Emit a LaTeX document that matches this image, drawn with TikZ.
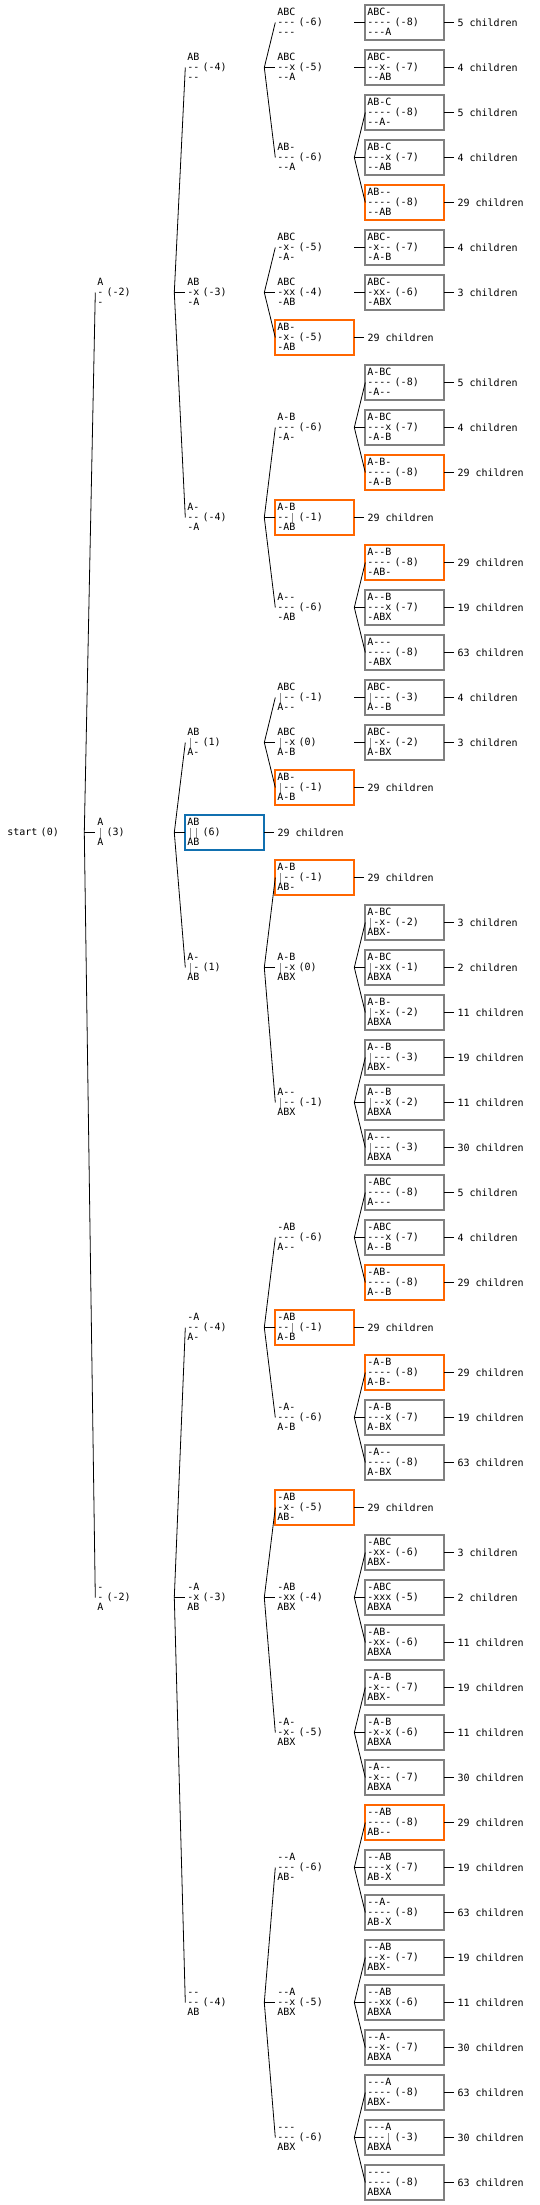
\documentclass[tikz,border=0pt]{standalone}
\usepackage{fontspec}
\setmonofont{DejaVu Sans Mono}
\usetikzlibrary{math,positioning}
\definecolor{boxgrey}{RGB}{128,128,128}
\definecolor{boxorange}{RGB}{255,102,0}
\definecolor{boxblue}{RGB}{17,112,176}
\definecolor{hitgrey}{RGB}{140,140,140}
\newcommand{\tstrut}{\vrule height 8.2pt depth 2.1pt width 0pt}
\newcommand{\hit}{\makebox[0.602em]{\smash{\color{hitgrey}\rule[-2.5pt]{1.4pt}{10.5pt}}}}
\newcommand{\trio}[3]{\tstrut#1\\\tstrut#2\\\tstrut#3}

\begin{document}
\begin{tikzpicture}[x=1pt, y=-1pt,
    tile/.style={anchor=west, outer sep=0pt, inner xsep=2pt, inner ysep=2pt,
      text width=75pt, minimum height=35pt, align=left, line width=1.8pt,
      font=\ttfamily\fontsize{10}{10.3}\selectfont},
    greytile/.style={draw=boxgrey},
    orangetile/.style={draw=boxorange},
    bluetile/.style={draw=boxblue},
    kidcount/.style={inner sep=3pt, font=\ttfamily\fontsize{10}{10.3}\selectfont},
    link/.style={line width=0.8pt}]
  \tikzmath{%
    \colw = 90; \rowh = 45; \xo = 5.3; \yo = 22.5;
  }
  \useasboundingbox (0,0) rectangle (540,2205);

  \node[tile] (n0-18) at ({\xo}, {\yo+\rowh*18}) {\tstrut start (0)};

  \foreach \lv/\rw/\prow/\topl/\midl/\botl [evaluate=\lv as \pd using int(\lv-1)] in {
      1/6/18/A/- (-2)/-,
      1/18/18/A/\hit{} (3)/A,
      1/35/18/-/- (-2)/A,
      2/1/6/AB/-- (-4)/--,
      2/6/6/AB/-x (-3)/-A,
      2/11/6/A-/-- (-4)/-A,
      2/16/18/AB/\hit- (1)/A-,
      2/21/18/A-/\hit- (1)/AB,
      2/29/35/-A/-- (-4)/A-,
      2/35/35/-A/-x (-3)/AB,
      2/44/35/--/-- (-4)/AB,
      3/0/1/ABC/--- (-6)/---,
      3/1/1/ABC/--x (-5)/--A,
      3/3/1/AB-/--- (-6)/--A,
      3/5/6/ABC/-x- (-5)/-A-,
      3/6/6/ABC/-xx (-4)/-AB,
      3/9/11/A-B/--- (-6)/-A-,
      3/13/11/A--/--- (-6)/-AB,
      3/15/16/ABC/\hit-- (-1)/A--,
      3/16/16/ABC/\hit-x (0)/A-B,
      3/21/21/A-B/\hit-x (0)/ABX,
      3/24/21/A--/\hit-- (-1)/ABX,
      3/27/29/-AB/--- (-6)/A--,
      3/31/29/-A-/--- (-6)/A-B,
      3/35/35/-AB/-xx (-4)/ABX,
      3/38/35/-A-/-x- (-5)/ABX,
      3/41/44/--A/--- (-6)/AB-,
      3/44/44/--A/--x (-5)/ABX,
      3/47/44/---/--- (-6)/ABX}{
    \node[tile] (n\lv-\rw) at ({\xo+\colw*\lv}, {\yo+\rowh*\rw}) {\trio{\topl}{\midl}{\botl}};
    \draw[link] (n\pd-\prow.east) -- (n\lv-\rw.west);
  }

  \foreach \lv/\rw/\prow/\kind/\topl/\midl/\botl/\kids [evaluate=\lv as \pd using int(\lv-1)] in {
      4/0/0/greytile/ABC-/---- (-8)/---A/5,
      4/1/1/greytile/ABC-/--x- (-7)/--AB/4,
      4/2/3/greytile/AB-C/---- (-8)/--A-/5,
      4/3/3/greytile/AB-C/---x (-7)/--AB/4,
      4/4/3/orangetile/AB--/---- (-8)/--AB/29,
      4/5/5/greytile/ABC-/-x-- (-7)/-A-B/4,
      4/6/6/greytile/ABC-/-xx- (-6)/-ABX/3,
      3/7/6/orangetile/AB-/-x- (-5)/-AB/29,
      4/8/9/greytile/A-BC/---- (-8)/-A--/5,
      4/9/9/greytile/A-BC/---x (-7)/-A-B/4,
      4/10/9/orangetile/A-B-/---- (-8)/-A-B/29,
      3/11/11/orangetile/A-B/--\hit{} (-1)/-AB/29,
      4/12/13/orangetile/A--B/---- (-8)/-AB-/29,
      4/13/13/greytile/A--B/---x (-7)/-ABX/19,
      4/14/13/greytile/A---/---- (-8)/-ABX/63,
      4/15/15/greytile/ABC-/\hit--- (-3)/A--B/4,
      4/16/16/greytile/ABC-/\hit-x- (-2)/A-BX/3,
      3/17/16/orangetile/AB-/\hit-- (-1)/A-B/29,
      2/18/18/bluetile/AB/\hit\hit{} (6)/AB/29,
      3/19/21/orangetile/A-B/\hit-- (-1)/AB-/29,
      4/20/21/greytile/A-BC/\hit-x- (-2)/ABX-/3,
      4/21/21/greytile/A-BC/\hit-xx (-1)/ABXA/2,
      4/22/21/greytile/A-B-/\hit-x- (-2)/ABXA/11,
      4/23/24/greytile/A--B/\hit--- (-3)/ABX-/19,
      4/24/24/greytile/A--B/\hit--x (-2)/ABXA/11,
      4/25/24/greytile/A---/\hit--- (-3)/ABXA/30,
      4/26/27/greytile/-ABC/---- (-8)/A---/5,
      4/27/27/greytile/-ABC/---x (-7)/A--B/4,
      4/28/27/orangetile/-AB-/---- (-8)/A--B/29,
      3/29/29/orangetile/-AB/--\hit{} (-1)/A-B/29,
      4/30/31/orangetile/-A-B/---- (-8)/A-B-/29,
      4/31/31/greytile/-A-B/---x (-7)/A-BX/19,
      4/32/31/greytile/-A--/---- (-8)/A-BX/63,
      3/33/35/orangetile/-AB/-x- (-5)/AB-/29,
      4/34/35/greytile/-ABC/-xx- (-6)/ABX-/3,
      4/35/35/greytile/-ABC/-xxx (-5)/ABXA/2,
      4/36/35/greytile/-AB-/-xx- (-6)/ABXA/11,
      4/37/38/greytile/-A-B/-x-- (-7)/ABX-/19,
      4/38/38/greytile/-A-B/-x-x (-6)/ABXA/11,
      4/39/38/greytile/-A--/-x-- (-7)/ABXA/30,
      4/40/41/orangetile/--AB/---- (-8)/AB--/29,
      4/41/41/greytile/--AB/---x (-7)/AB-X/19,
      4/42/41/greytile/--A-/---- (-8)/AB-X/63,
      4/43/44/greytile/--AB/--x- (-7)/ABX-/19,
      4/44/44/greytile/--AB/--xx (-6)/ABXA/11,
      4/45/44/greytile/--A-/--x- (-7)/ABXA/30,
      4/46/47/greytile/---A/---- (-8)/ABX-/63,
      4/47/47/greytile/---A/---\hit{} (-3)/ABXA/30,
      4/48/47/greytile/----/---- (-8)/ABXA/63}{
    \node[tile, \kind] (n\lv-\rw) at ({\xo+\colw*\lv}, {\yo+\rowh*\rw}) {\trio{\topl}{\midl}{\botl}};
    \draw[link] (n\pd-\prow.east) -- (n\lv-\rw.west);
    \node[kidcount, right=10pt of n\lv-\rw] (k\rw) {\kids{} children};
    \draw[link] (n\lv-\rw.east) -- (k\rw.west);
  }
\end{tikzpicture}
\end{document}
